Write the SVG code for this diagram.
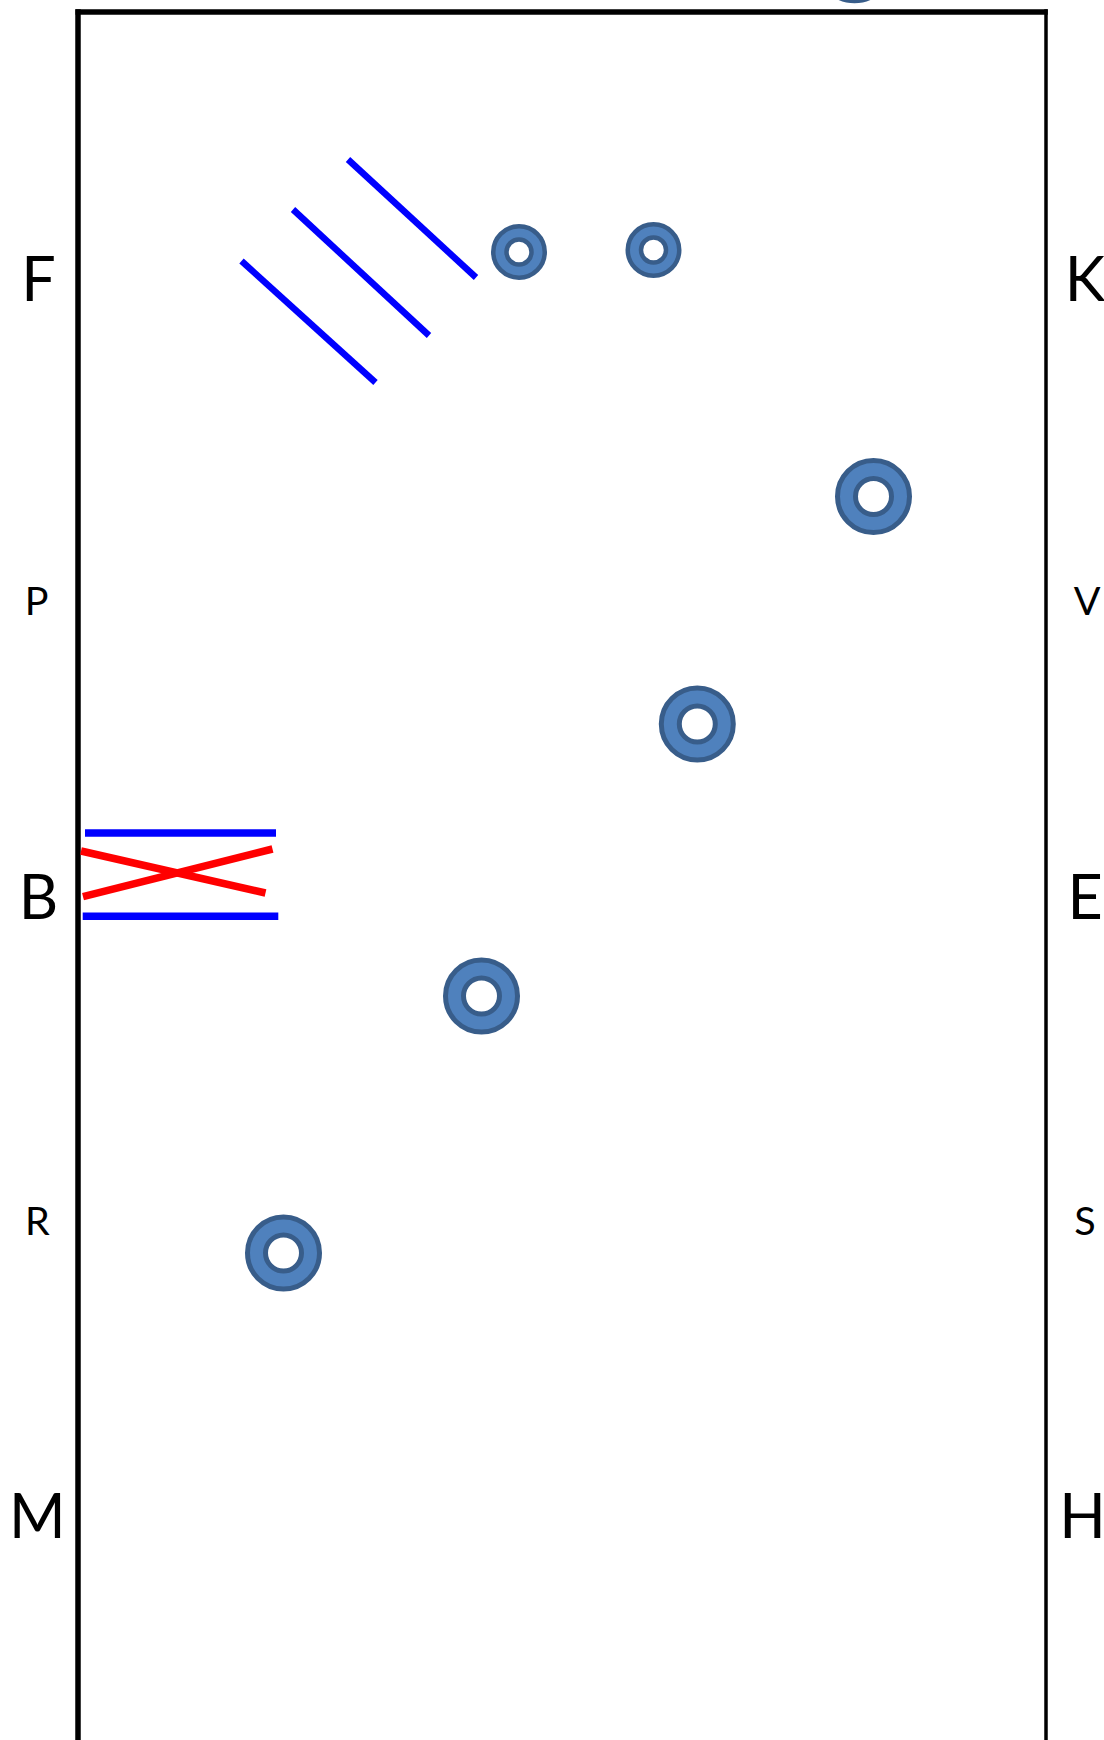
<svg xmlns="http://www.w3.org/2000/svg" width="1104" height="1740" viewBox="0 0 1104 1740">
<style>
.big{font-family:Lato,"Liberation Sans",sans-serif;font-size:61px;fill:#000;text-anchor:middle}
.small{font-family:Lato,"Liberation Sans",sans-serif;font-size:39.5px;fill:#000;text-anchor:middle}
.pole{stroke:#0000FF;stroke-width:6.5;fill:none}
.hpole{stroke:#0000FF;stroke-width:7.5;fill:none}
.cross{stroke:#FF0000;stroke-width:7.5;fill:none}
.ring{fill:#4F81BD;stroke:#385D8A;fill-rule:evenodd}
</style>
<defs>
<path id="ringS" class="ring" stroke-width="4.5" d="M-25.75,0a25.75,25.75 0 1,0 51.5,0a25.75,25.75 0 1,0 -51.5,0ZM-12.5,0a12.5,12.5 0 1,0 25,0a12.5,12.5 0 1,0 -25,0Z"/>
<path id="ringL" class="ring" stroke-width="5" d="M-36,0a36,36 0 1,0 72,0a36,36 0 1,0 -72,0ZM-18,0a18,18 0 1,0 36,0a18,18 0 1,0 -36,0Z"/>
</defs>
<rect width="1104" height="1740" fill="#fff"/>
<g id="arena">
<line x1="75.5" y1="12" x2="1047.8" y2="12" stroke="#000" stroke-width="5.5"/>
<line x1="78" y1="9.3" x2="78" y2="1740" stroke="#000" stroke-width="5.5"/>
<line x1="1046" y1="9.3" x2="1046" y2="1740" stroke="#000" stroke-width="3.5"/>
</g>
<g id="letters">
<text class="big" x="38.5" y="300.5">F</text>
<text class="big" x="1085" y="300.5">K</text>
<text class="small" x="36.6" y="615">P</text>
<text class="small" x="1087" y="615">V</text>
<text class="big" x="38.5" y="919.3">B</text>
<text class="big" x="1085" y="919.3">E</text>
<text class="small" x="37.4" y="1235">R</text>
<text class="small" x="1085" y="1235">S</text>
<text class="big" x="37.4" y="1538.3">M</text>
<text class="big" x="1082.5" y="1538.3">H</text>
</g>
<g id="poles">
<line class="pole" x1="348" y1="159.5" x2="476" y2="277.5"/>
<line class="pole" x1="293" y1="209.5" x2="429" y2="335.5"/>
<line class="pole" x1="241.5" y1="261" x2="375.5" y2="382.5"/>
<line class="hpole" x1="85" y1="833" x2="276" y2="833"/>
<line class="hpole" x1="82.7" y1="916.3" x2="278.3" y2="916.3"/>
<line class="cross" x1="81" y1="851" x2="265.5" y2="893"/>
<line class="cross" x1="83" y1="896.7" x2="272.5" y2="849"/>
</g>
<g id="rings">
<use href="#ringS" x="519" y="252"/>
<use href="#ringS" x="653.5" y="250"/>
<use href="#ringL" x="873.5" y="496.5"/>
<use href="#ringL" x="697.3" y="724"/>
<use href="#ringL" x="481.5" y="996"/>
<use href="#ringL" x="283.5" y="1253"/>
<use href="#ringL" x="854.5" y="-35.2"/>
</g>
</svg>
